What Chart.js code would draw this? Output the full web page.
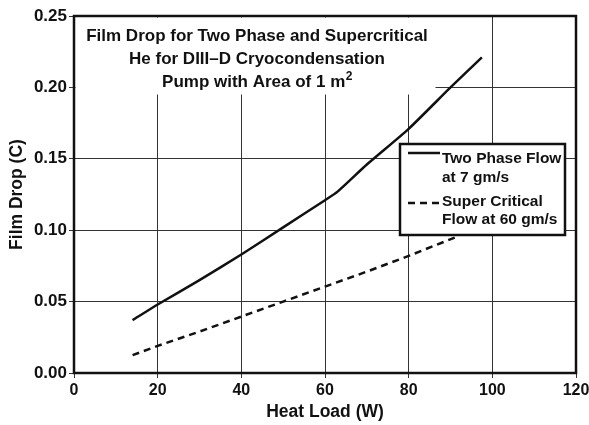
<!DOCTYPE html>
<html>
<head>
<meta charset="utf-8">
<script src="https://cdn.jsdelivr.net/npm/chart.js@4.4.1/dist/chart.umd.min.js"></script>
<style>
  html, body { margin: 0; padding: 0; background: #fff; }
  #wrap { width: 589px; height: 425px; }
</style>
</head>
<body>
<div id="wrap"><canvas id="chart" width="589" height="425"></canvas></div>
<script>
// values
const twoPhaseLoad = [14, 20, 30, 40, 50, 60, 63, 70, 80, 90, 97.5]
const twoPhaseDrop = [0.037, 0.048, 0.065, 0.083, 0.102, 0.121, 0.127, 0.146, 0.171, 0.2, 0.221]
const superLoad = [14, 20, 30, 40, 50, 60, 70, 80, 92]
const superDrop = [0.0125, 0.019, 0.029, 0.0395, 0.05, 0.0605, 0.071, 0.082, 0.096]
const seriesNames = [['Two Phase Flow', 'at 7 gm/s'], ['Super Critical', 'Flow at 60 gm/s']]
const titleLines = ['Film Drop for Two Phase and Supercritical', 'He for DIII\u2013D Cryocondensation', 'Pump with Area of 1 m']

const FONT = '"Liberation Sans", Arial, sans-serif'

const toPoints = (xs, ys) => xs.map((x, i) => ({ x, y: ys[i] }))

// white title panel in the top-left of the plot
const titlePanel = {
  id: 'titlePanel',
  beforeDatasetsDraw (chart) {
    const { ctx, chartArea } = chart
    ctx.save()
    ctx.fillStyle = '#fff'
    ctx.fillRect(chartArea.left + 1.5, chartArea.top + 1.5, 434 - chartArea.left, 93 - chartArea.top)
    ctx.fillStyle = '#111'
    ctx.font = 'bold 17px ' + FONT
    ctx.textBaseline = 'alphabetic'
    ctx.textAlign = 'center'
    const cx = 257
    ctx.fillText(titleLines[0], cx, 41)
    ctx.fillText(titleLines[1], cx, 64)
    // last line with superscript 2
    const w1 = ctx.measureText(titleLines[2]).width
    ctx.font = 'bold 12px ' + FONT
    const w2 = ctx.measureText('2').width
    const start = cx - (w1 + w2) / 2
    ctx.textAlign = 'left'
    ctx.font = 'bold 17px ' + FONT
    ctx.fillText(titleLines[2], start, 87)
    ctx.font = 'bold 12px ' + FONT
    ctx.fillText('2', start + w1 + 0.5, 80)
    ctx.restore()
  }
}

// boxed legend sitting inside the plot, plus the heavy frame
const boxLegend = {
  id: 'boxLegend',
  afterDatasetsDraw (chart) {
    const { ctx } = chart
    const x0 = 400; const y0 = 144; const x1 = 565; const y1 = 235
    ctx.save()
    ctx.fillStyle = '#fff'
    ctx.fillRect(x0, y0, x1 - x0, y1 - y0)
    ctx.lineWidth = 2.5
    ctx.strokeStyle = '#111'
    ctx.strokeRect(x0, y0, x1 - x0, y1 - y0)

    const samples = [153, 203]
    chart.data.datasets.forEach((ds, i) => {
      ctx.lineWidth = ds.borderWidth
      ctx.setLineDash(ds.borderDash || [])
      ctx.beginPath()
      ctx.moveTo(408, samples[i])
      ctx.lineTo(440, samples[i])
      ctx.stroke()
    })
    ctx.setLineDash([])
    ctx.fillStyle = '#111'
    ctx.font = 'bold 15.5px ' + FONT
    ctx.textAlign = 'left'
    ctx.textBaseline = 'alphabetic'
    ctx.fillText(seriesNames[0][0], 442, 163)
    ctx.fillText(seriesNames[0][1], 442, 182)
    ctx.fillText(seriesNames[1][0], 442, 206)
    ctx.fillText(seriesNames[1][1], 442, 224)
    ctx.restore()
  },
  afterDraw (chart) {
    const { ctx, chartArea: a } = chart
    ctx.save()
    ctx.lineWidth = 2.5
    ctx.strokeStyle = '#111'
    ctx.strokeRect(a.left, a.top, a.right - a.left, a.bottom - a.top)
    ctx.restore()
  }
}

new Chart(document.getElementById('chart'), {
  type: 'line',
  data: {
    datasets: [{
      label: seriesNames[0].join(' '),
      data: toPoints(twoPhaseLoad, twoPhaseDrop),
      borderColor: '#111',
      borderWidth: 2.5,
      pointRadius: 0,
      tension: 0.2,
      fill: false
    }, {
      label: seriesNames[1].join(' '),
      data: toPoints(superLoad, superDrop),
      borderColor: '#111',
      borderWidth: 2.5,
      borderDash: [7, 5],
      pointRadius: 0,
      tension: 0,
      fill: false
    }]
  },
  options: {
    responsive: false,
    animation: false,
    layout: { padding: { top: 16, right: 13, left: 0, bottom: 0 } },
    plugins: {
      legend: { display: false },
      tooltip: { enabled: false }
    },
    scales: {
      x: {
        type: 'linear',
        min: 0,
        max: 120,
        ticks: {
          stepSize: 20,
          color: '#111',
          padding: 3,
          font: { family: FONT, size: 16, weight: 'bold' },
          maxRotation: 0
        },
        grid: { color: '#333', lineWidth: 1, tickLength: 5 },
        border: { display: false },
        title: {
          display: true,
          text: 'Heat Load (W)',
          color: '#111',
          font: { family: FONT, size: 17.5, weight: 'bold' },
          padding: { top: 0, bottom: 2 }
        },
        afterFit (scale) {
          scale.height = 52
          scale.paddingLeft = 0
          scale.paddingRight = 0
        }
      },
      y: {
        min: 0,
        max: 0.25,
        ticks: {
          stepSize: 0.05,
          color: '#111',
          padding: 2,
          font: { family: FONT, size: 17, weight: 'bold' },
          callback: v => v.toFixed(2)
        },
        grid: { color: '#333', lineWidth: 1, tickLength: 5 },
        border: { display: false },
        title: {
          display: true,
          text: 'Film Drop (C)',
          color: '#111',
          font: { family: FONT, size: 17.5, weight: 'bold' },
          padding: { top: 7, bottom: 0 }
        },
        afterFit (scale) {
          scale.width = 74
          scale.paddingTop = 0
          scale.paddingBottom = 0
        }
      }
    }
  },
  plugins: [titlePanel, boxLegend]
})
</script>
</body>
</html>
